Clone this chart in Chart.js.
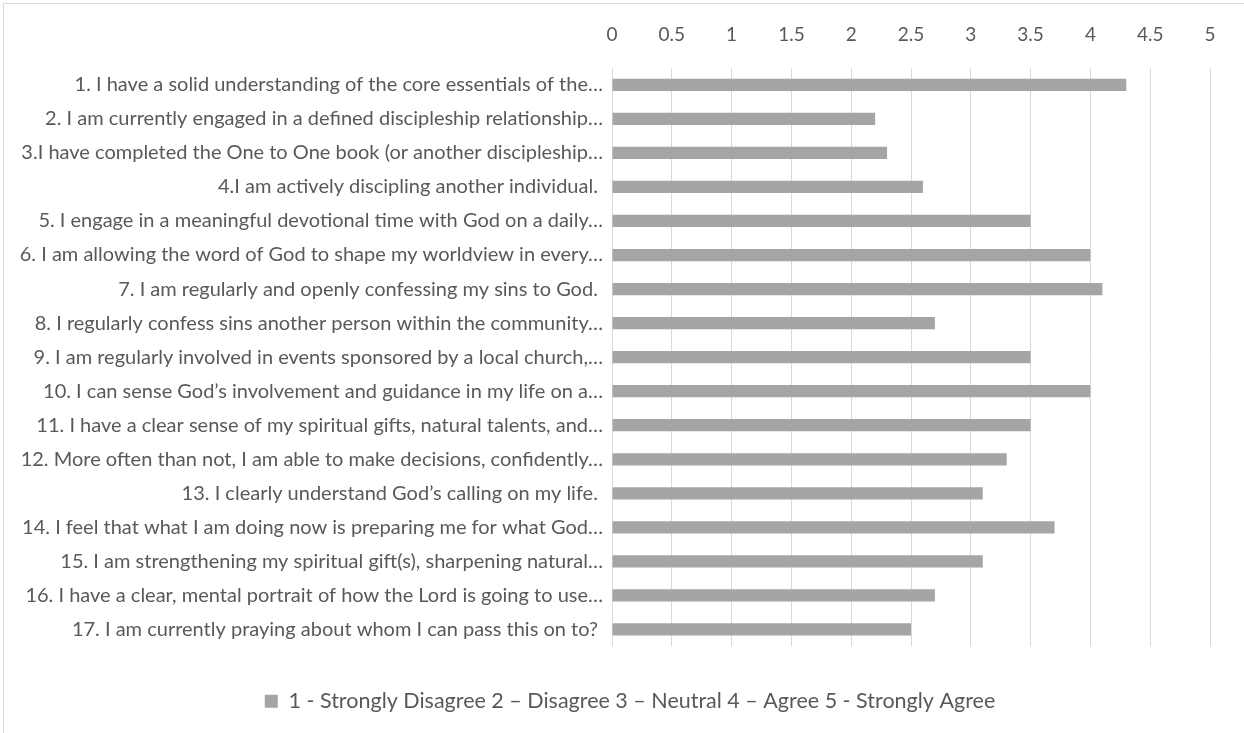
<!DOCTYPE html>
<html lang="en">
<head>
  <meta charset="UTF-8" />
  <title>Discipleship Survey</title>
  <style>
    html, body { margin: 0; padding: 0; background: #fff; overflow: hidden; }
    #frame { position: absolute; left: 3px; top: 3px; width: 1260px; height: 780px; border: 1px solid #d9d9d9; }
    #wrap { position: absolute; left: 0; top: 0; width: 1244px; height: 733px; }
  </style>
</head>
<body>
  <div id="frame"></div>
  <div id="wrap"><canvas id="surveyChart" width="1244" height="733"></canvas></div>

  <script src="https://cdn.jsdelivr.net/npm/chart.js"></script>
  <script>
    const statements = [
      '1. I have a solid understanding of the core essentials of the…',
      '2. I am currently engaged in a defined discipleship relationship…',
      '3.I have completed the One to One book (or another discipleship…',
      '4.I am actively discipling another individual. ',
      '5. I engage in a meaningful devotional time with God on a daily…',
      '6. I am allowing the word of God to shape my worldview in every…',
      '7. I am regularly and openly confessing my sins to God. ',
      '8. I regularly confess sins another person within the community…',
      '9. I am regularly involved in events sponsored by a local church,…',
      '10. I can sense God’s involvement and guidance in my life on a…',
      '11. I have a clear sense of my spiritual gifts, natural talents, and…',
      '12. More often than not, I am able to make decisions, confidently…',
      '13. I clearly understand God’s calling on my life. ',
      '14. I feel that what I am doing now is preparing me for what God…',
      '15. I am strengthening my spiritual gift(s), sharpening natural…',
      '16. I have a clear, mental portrait of how the Lord is going to use…',
      '17. I am currently praying about whom I can pass this on to? '
    ];
    const averageScores = [4.3, 2.2, 2.3, 2.6, 3.5, 4.0, 4.1, 2.7, 3.5, 4.0, 3.5, 3.3, 3.1, 3.7, 3.1, 2.7, 2.5];
    const scaleLegend = '1 - Strongly Disagree 2 – Disagree 3 – Neutral 4 – Agree 5 - Strongly Agree';
    const scoreTicks = [0, 0.5, 1, 1.5, 2, 2.5, 3, 3.5, 4, 4.5, 5];

    const textColor = '#595959';
    const fontFamily = 'Lato, "Liberation Sans", sans-serif';

    // nudge the legend a bit right, the original sits off centre
    const legendShift = {
      id: 'legendShift',
      afterLayout(chart) {
        chart.legend.left += 20;
        chart.legend.right += 20;
      }
    };

    const ctx = document.getElementById('surveyChart').getContext('2d');
    new Chart(ctx, {
      type: 'bar',
      data: {
        labels: statements,
        datasets: [{
          label: scaleLegend,
          data: averageScores,
          backgroundColor: '#a5a5a5',
          borderWidth: 0,
          categoryPercentage: 0.36,
          barPercentage: 1
        }]
      },
      options: {
        indexAxis: 'y',
        responsive: false,
        animation: false,
        layout: { padding: { left: 10, right: 34, top: 1, bottom: 11 } },
        scales: {
          x: {
            position: 'top',
            min: 0,
            max: 5,
            afterBuildTicks: axis => { axis.ticks = scoreTicks.map(v => ({ value: v })); },
            grid: { color: '#d9d9d9', lineWidth: 1, drawTicks: false },
            border: { display: false },
            ticks: {
              color: textColor,
              font: { family: fontFamily, size: 19 },
              padding: 22,
              callback: v => String(v)
            }
          },
          y: {
            grid: { display: false },
            border: { display: false },
            afterFit: axis => { axis.width = 602; },
            ticks: { color: textColor, font: { family: fontFamily, size: 20 }, padding: 1, autoSkip: false }
          }
        },
        plugins: {
          legend: {
            position: 'bottom',
            labels: {
              color: textColor,
              font: { family: fontFamily, size: 21.5 },
              boxWidth: 13,
              boxHeight: 13,
              padding: 44
            }
          },
          tooltip: { enabled: false }
        }
      },
      plugins: [legendShift]
    });
  </script>
</body>
</html>
